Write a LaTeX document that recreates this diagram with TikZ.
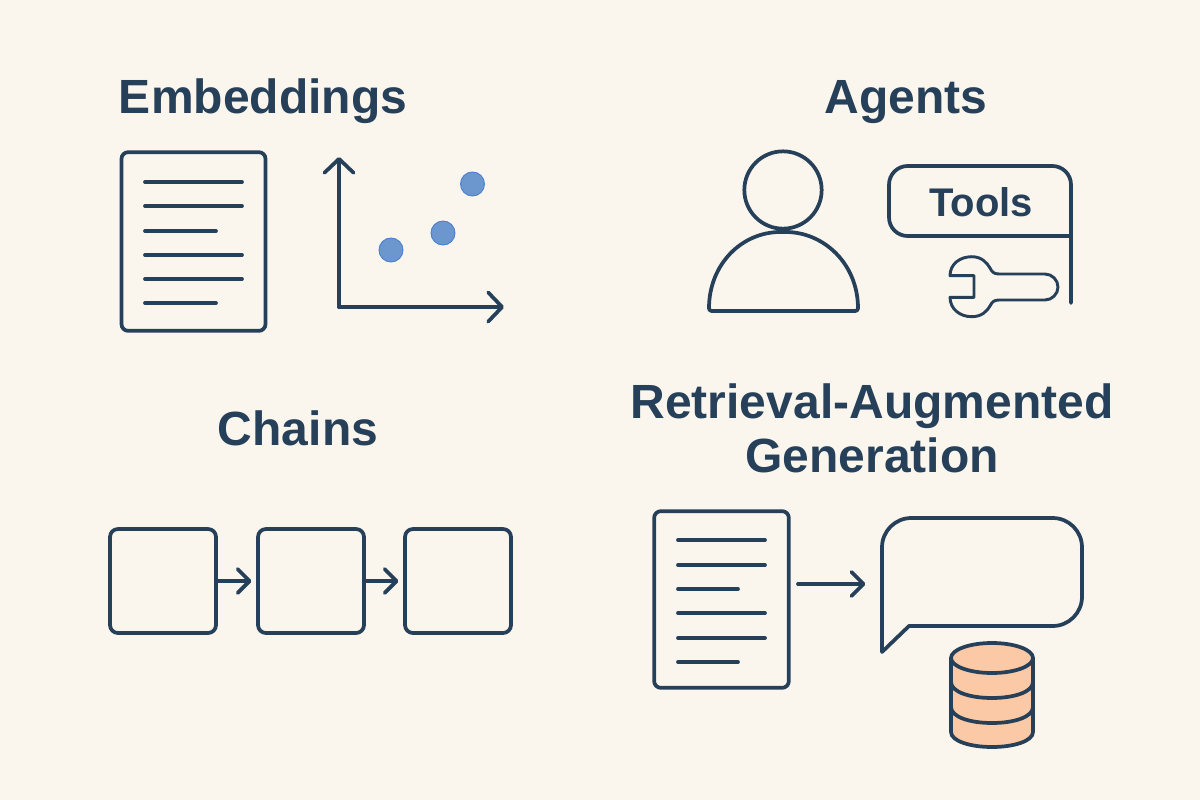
\documentclass[tikz,border=0pt]{standalone}
\usepackage{fontspec}
\setmainfont{Liberation Sans}
\usetikzlibrary{arrows.meta,calc,positioning}
\definecolor{paper}{HTML}{FAF6EE}
\definecolor{ink}{HTML}{27405A}
\definecolor{dotblue}{HTML}{6C96CE}
\definecolor{dotedge}{HTML}{4A80D0}
\definecolor{dbfill}{HTML}{FCC9A6}
\tikzset{
        heading/.style = {text=ink, font=\fontsize{36}{40.5}\selectfont\bfseries, align=center, inner sep=0pt},
        outline/.style = {draw=ink, line width=2.8pt, line cap=round, line join=round},
        block/.style = {outline, rectangle, rounded corners=6pt, inner sep=0pt,
            minimum width=79.5pt,
            minimum height=78pt},
        page/.style = {outline, rectangle, rounded corners=5pt, inner sep=0pt},
        arrow/.style = {outline, shorten >=3.5pt, -{Straight Barb[length=9pt,width=18pt,line width=2.8pt,round]}},
        bigarrow/.style = {outline, -{Straight Barb[length=10.5pt,width=22pt,line width=2.8pt,round]}},
        dot/.style = {circle, fill=dotblue, draw=dotedge, line width=0.7pt, minimum size=18pt, inner sep=0pt},
    }
\begin{document}
\begin{tikzpicture}[x=0.75pt,y=0.75pt,yscale=-1,xscale=1]
\useasboundingbox (0,0) rectangle (1200,800);
\fill [paper] (0,0) rectangle (1200,800);

% Text Node
\node [heading, anchor=base] (embedtitle) at (263,113) {Embeddings};
\node [heading, anchor=base] (agenttitle) at (906,113) {Agents};
\node [heading, anchor=base] (chaintitle) at (298,445) {Chains};
\node [heading] (ragtitle) at (872,428) {Retrieval-Augmented\\Generation};

%Embeddings page
\node [page, minimum width=108pt, minimum height=134pt] (embeddoc) at (193.5,241.5) {};
\foreach \y/\x in {182/242,206/242,231/216,255/242,279/242,303/216}
    \draw [outline] (145,\y) -- (\x,\y);

%Axes
\coordinate (origin) at (339,307);
\coordinate (ytop) at (339,157);
\coordinate (xend) at (504,307);
\draw [bigarrow] (origin) -- (ytop);
\draw [bigarrow] (origin) -- (xend);
\node [dot] (dota) at (391,250) {};
\node [dot] (dotb) at (443,233) {};
\node [dot] (dotc) at (472.5,184) {};

%Agent
\node [outline, circle, minimum size=58pt, inner sep=0pt] (head) at (783,190) {};
\draw [outline, rounded corners=2pt] (709,311) .. controls (709,264) and (742,232) .. (783,232) .. controls (824,232) and (858,264) .. (858,311) -- cycle;

%Tools box
\draw [outline, rounded corners=14pt] (1071,303) -- (1071,166) -- (889,166) -- (889,236) -- (1071,236);
\node [text=ink, font=\fontsize{30}{36}\selectfont\bfseries, inner sep=0pt] (tools) at (981,202) {Tools};

%Wrench
\draw [outline, line width=2.2pt] (950,275.7) .. controls (950,264) and (960,256.7) .. (971.7,256.7) .. controls (982,256.7) and (987,263) .. (990,268) .. controls (992,272) and (994,274) .. (999,274) -- (1045,274) .. controls (1052,274) and (1058,280) .. (1058,287) .. controls (1058,294) and (1052,300) .. (1045,300) -- (999,300) .. controls (994,300) and (992,302) .. (990,306) .. controls (987,311) and (982,316.7) .. (971.7,316.7) .. controls (960,316.7) and (950,309) .. (950,297.3) -- (974,297.3) -- (974,275.7) -- cycle;

%Chain
\node [block] (linka) at (163,581) {};
\node [block] (linkb) at (311,581) {};
\node [block] (linkc) at (458,581) {};
\draw [arrow] (linka) -- (linkb);
\draw [arrow] (linkb) -- (linkc);

%Retrieval page
\node [page, minimum width=101pt, minimum height=132.5pt] (ragdoc) at (721.5,599.5) {};
\foreach \y/\x in {540/765,565/765,589/738,613/765,638/765,662/738}
    \draw [outline] (678,\y) -- (\x,\y);

%Speech bubble
\draw [outline] (882,652) [rounded corners=22pt] -- (882,518) -- (1082,518) -- (1082,626) [sharp corners] -- (909,626) -- cycle;
\coordinate (ragout) at (798,584);
\coordinate (ragin) at (870,584);
\draw [arrow] (ragout) -- (ragin);

%Database
\draw [outline, fill=dbfill] (951,658) -- (951,732) .. controls (951,741) and (970,747) .. (992,747) .. controls (1014,747) and (1033,741) .. (1033,732) -- (1033,658);
\draw [outline, fill=dbfill] (992,658) ellipse (41 and 15);
\foreach \y in {682,707}
    \draw [outline] (951,\y) .. controls (951,\y+10) and (970,\y+16) .. (992,\y+16) .. controls (1014,\y+16) and (1033,\y+10) .. (1033,\y);

\end{tikzpicture}
\end{document}
